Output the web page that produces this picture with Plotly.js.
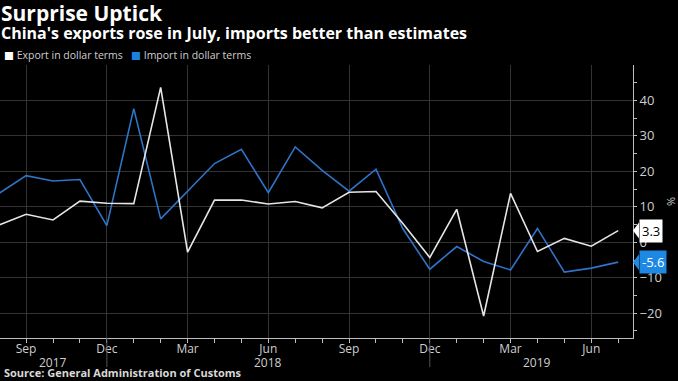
<!DOCTYPE html>
<html>
<head>
<meta charset="utf-8">
<script src="https://cdn.plot.ly/plotly-3.0.1.min.js"></script>
<style>
  html, body { margin: 0; padding: 0; background: #000; }
  #chart { width: 678px; height: 381px; }
</style>
</head>
<body>
<div id="chart"></div>
<script>
// Months Aug 2017 .. Jul 2019
const months = ['2017-08','2017-09','2017-10','2017-11','2017-12','2018-01','2018-02','2018-03','2018-04','2018-05','2018-06','2018-07','2018-08','2018-09','2018-10','2018-11','2018-12','2019-01','2019-02','2019-03','2019-04','2019-05','2019-06','2019-07'];
const exportsYoY = [4.9, 7.9, 6.3, 11.6, 11.0, 10.9, 43.7, -2.8, 11.9, 11.9, 10.8, 11.5, 9.7, 14.1, 14.3, 5.3, -4.3, 9.3, -20.8, 13.8, -2.6, 1.1, -1.1, 3.3];
const importsYoY = [13.8, 18.8, 17.3, 17.7, 4.7, 37.7, 6.6, 14.5, 22.2, 26.2, 14.0, 26.9, 20.3, 14.4, 20.6, 3.8, -7.6, -1.2, -5.4, -7.8, 3.9, -8.4, -7.3, -5.6];
const tickMonths = ['2017-09','2017-12','2018-03','2018-06','2018-09','2018-12','2019-03','2019-06'];
const tickText = ['Sep','Dec','Mar','Jun','Sep','Dec','Mar','Jun'];
const yTicks = [-20, -10, 0, 10, 20, 30, 40];
const yearLabels = ['2017','2018','2019'];
const yearCenters = ['2017-10','2018-06','2019-04'];
const yearBreaks = ['2017-12','2018-12'];

const idx = m => months.indexOf(m);
const xs = months.map((m, i) => i);
const lastExp = exportsYoY[exportsYoY.length - 1];
const lastImp = importsYoY[importsYoY.length - 1];

const exportColor = '#e6e6e6';
const importColor = '#2f74c8';
const axisColor = '#bdbdbd';
const gridColor = '#333333';

const traces = [
  { x: xs, y: importsYoY, type: 'scatter', mode: 'lines', name: 'Import in dollar terms',
    line: { color: importColor, width: 1.6 }, hoverinfo: 'skip' },
  { x: xs, y: exportsYoY, type: 'scatter', mode: 'lines', name: 'Export in dollar terms',
    line: { color: exportColor, width: 1.6 }, hoverinfo: 'skip' }
];

const font = 'Open Sans, DejaVu Sans, sans-serif';
// plot area: top 65px, bottom 338px (height 273)
const py = p => (338 - p) / 273;

const annotations = [
  { xref: 'paper', yref: 'paper', x: -0.001, y: py(13), xanchor: 'left', yanchor: 'middle',
    text: '<b>Surprise Uptick</b>', showarrow: false,
    font: { family: font, size: 21, color: '#ffffff' } },
  { xref: 'paper', yref: 'paper', x: -0.001, y: py(33), xanchor: 'left', yanchor: 'middle',
    text: '<b>China\'s exports rose in July, imports better than estimates</b>', showarrow: false,
    font: { family: font, size: 16, color: '#ffffff' } },
  { xref: 'paper', yref: 'paper', x: 0.003, y: py(55), xanchor: 'left', yanchor: 'middle',
    text: '<span style="color:#ffffff">■</span> Export in dollar terms   <span style="color:#1e7fe0">■</span> Import in dollar terms',
    showarrow: false, font: { family: font, size: 10.5, color: '#cfcfcf' } },
  { xref: 'paper', yref: 'paper', x: 0.003, y: py(372.5), xanchor: 'left', yanchor: 'middle',
    text: '<b>Source: General Administration of Customs</b>', showarrow: false,
    font: { family: font, size: 11, color: '#d9d9d9' } },
  { xref: 'paper', yref: 'y', x: 1, y: lastExp, xanchor: 'left', yanchor: 'middle', xshift: 6,
    text: String(lastExp.toFixed(1)), showarrow: false, bgcolor: '#ffffff', borderpad: 2,
    font: { family: font, size: 13, color: '#000000' } },
  { xref: 'paper', yref: 'y', x: 1, y: lastImp, xanchor: 'left', yanchor: 'middle', xshift: 6,
    text: String(lastImp.toFixed(1)), showarrow: false, bgcolor: '#1e88e5', borderpad: 2,
    font: { family: font, size: 13, color: '#ffffff' } }
];
yearLabels.forEach((t, i) => {
  annotations.push({ xref: 'x', yref: 'paper', x: idx(yearCenters[i]), y: py(362), yanchor: 'middle',
    text: t, showarrow: false, font: { family: font, size: 12, color: '#cfcfcf' } });
});

const shapes = [
  { type: 'path', xref: 'paper', yref: 'y', xsizemode: 'pixel', ysizemode: 'pixel',
    xanchor: 1, yanchor: lastExp, path: 'M 0 0 L 6 -8 L 6 8 Z', fillcolor: '#ffffff', line: { width: 0 } },
  { type: 'path', xref: 'paper', yref: 'y', xsizemode: 'pixel', ysizemode: 'pixel',
    xanchor: 1, yanchor: lastImp, path: 'M 0 0 L 6 -8 L 6 8 Z', fillcolor: '#1e88e5', line: { width: 0 } }
];
yearBreaks.forEach(m => {
  shapes.push({ type: 'line', xref: 'x', yref: 'paper', x0: idx(m), x1: idx(m), y0: 0, y1: py(367),
    line: { color: '#555555', width: 1 } });
});

const layout = {
  width: 678, height: 381,
  paper_bgcolor: '#000000', plot_bgcolor: '#000000',
  margin: { l: 0, r: 45, t: 65, b: 43 },
  showlegend: false,
  xaxis: {
    range: [0.03, 23.55], tickmode: 'array',
    tickvals: tickMonths.map(idx), ticktext: tickText,
    showgrid: true, gridcolor: gridColor, gridwidth: 1,
    zeroline: false, showline: true, linecolor: axisColor, linewidth: 1,
    ticks: 'outside', ticklen: 4, tickcolor: axisColor, ticklabelstandoff: -4,
    minor: { tickmode: 'linear', tick0: 0, dtick: 1, ticks: 'outside', ticklen: 4, tickcolor: axisColor, showgrid: false },
    tickfont: { family: font, size: 12, color: '#cfcfcf' }
  },
  yaxis: {
    side: 'right', range: [-27, 50], tickmode: 'array', tickvals: yTicks,
    showgrid: true, gridcolor: gridColor, gridwidth: 1,
    zeroline: false, showline: true, linecolor: axisColor, linewidth: 1,
    ticks: 'outside', ticklen: 3, tickcolor: axisColor,
    minor: { tickmode: 'linear', tick0: 5, dtick: 10, ticks: 'outside', ticklen: 3, tickcolor: axisColor, showgrid: false },
    tickfont: { family: font, size: 13, color: '#cfcfcf' },
    title: { text: '%', font: { family: font, size: 11, color: '#cfcfcf' }, standoff: 8 }
  },
  annotations: annotations,
  shapes: shapes
};

Plotly.newPlot('chart', traces, layout, { displayModeBar: false, staticPlot: true });
</script>
</body>
</html>
